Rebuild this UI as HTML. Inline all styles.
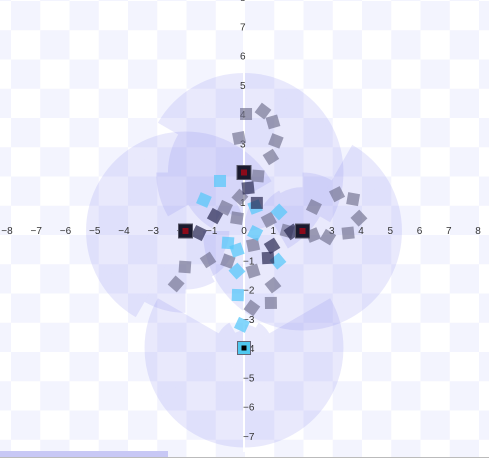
<!DOCTYPE html>
<html><head><meta charset="utf-8"><style>
html,body{margin:0;padding:0;background:#fff}
svg{display:block}
text{font-family:"Liberation Sans",sans-serif;font-size:10px;fill:#333}
</style></head><body>
<svg id="chart" width="489" height="458" viewBox="0 0 489 458">
<defs>
<pattern id="chk" x="11" y="1" width="58.5" height="58.5" patternUnits="userSpaceOnUse">
<rect width="58.5" height="58.5" fill="#ffffff"/>
<rect x="0" y="0" width="29.25" height="29.25" fill="#f3f4fe"/>
<rect x="29.25" y="29.25" width="29.25" height="29.25" fill="#f3f4fe"/>
</pattern>
</defs>
<rect width="489" height="458" fill="url(#chk)"/>
<g id="blobs"></g>
<line x1="244" y1="0" x2="244" y2="452" stroke="#fff" stroke-width="2"/>
<g id="ticks"></g>
<g id="marks"></g>
<rect x="0" y="451" width="168" height="6" fill="#c8c8f5"/>
<line x1="0" y1="457.5" x2="489" y2="457.5" stroke="#bbb"/>
</svg>
<script>
const xTicks=[-8,-7,-6,-5,-4,-3,-2,-1,0,1,2,3,4,5,6,7,8];
const yTicks=[8,7,6,5,4,3,2,1,-1,-2,-3,-4,-5,-6,-7];
const blobCx=[0,-2,2,0];
const blobCy=[2,0,0,-4];
const blobRadii=[
 [3.4,3.4,3.4,3.4,3.4,2.6,3.0,2.2,1.5,2.0,3.0,3.4],
 [2.0,3.4,3.4,3.4,3.4,3.4,3.4,3.4,2.8,2.0,1.8,1.5],
 [3.4,3.4,2.0,1.5,1.6,2.0,3.4,3.4,3.4,3.4,3.4,3.4],
 [3.4,1.0,0.8,0.6,1.0,3.4,3.4,3.4,3.4,3.4,3.4,3.4]
];
const grayX=[0.07,0.65,0.99,1.09,0.92,0.48,-0.14,-0.17,2.39,3.18,3.73,3.93,3.56,2.87,2.36,1.47,0.99,0.92,0.27,0.31,-0.55,-1.23,-2.02,-2.32,0.31,-0.65,0.85,-0.24];
const grayY=[4.0,4.1,3.73,3.08,2.53,1.88,1.16,3.18,0.82,1.26,1.09,0.44,-0.07,-0.21,-0.14,0,-1.85,-2.46,-2.63,-1.37,-1.03,-0.99,-1.23,-1.81,-0.48,0.79,0.38,0.44];
const darkX=[0.44,-0.99,0.96,0.82,-1.54,1.64,0.14];
const darkY=[0.96,0.51,-0.51,-0.92,-0.07,-0.03,1.47];
const cyanX=[-0.82,-1.37,1.2,0.38,-0.21,-0.07,-0.24,-0.24,-0.55,0.38,1.16];
const cyanY=[1.71,1.06,0.65,0.82,-2.19,-3.21,-1.37,-0.65,-0.41,-0.07,-1.03];
const specialX=[-2,2,0];
const specialY=[0,0,2];
const cyanSpecialX=[0];
const cyanSpecialY=[-4];

const U=29.25, OX=244, OY=231;
const sx=v=>OX+v*U, sy=v=>OY-v*U;
const NS='http://www.w3.org/2000/svg';
function mk(tag,parent){const e=document.createElementNS(NS,tag);document.getElementById(parent).appendChild(e);return e;}

xTicks.forEach(t=>{
 const e=mk('text','ticks');
 
 
 e.setAttribute('x',sx(t)-(t<0?3:0));e.setAttribute('y',OY+3);e.setAttribute('text-anchor','middle');
 e.textContent=t<0?'\u2212'+(-t):String(t);
});
yTicks.forEach(t=>{
 const e=mk('text','ticks');
 
 
 e.setAttribute('x',OX+(t<0?-1:-4));e.setAttribute('y',sy(t)+4);
 e.textContent=t<0?'\u2212'+(-t):String(t);
});

blobCx.forEach((cx,i)=>{
 const rs=blobRadii[i], n=rs.length;
 rs.forEach((r,k)=>{
  const a0=k*2*Math.PI/n, a1=(k+1)*2*Math.PI/n;
  const x0=sx(cx), y0=sy(blobCy[i]), R=r*U;
  const p=mk('path','blobs');
  
  
  p.setAttribute('d',`M${x0},${y0}L${x0+R*Math.cos(a0)},${y0-R*Math.sin(a0)}A${R},${R} 0 0 0 ${x0+R*Math.cos(a1)},${y0-R*Math.sin(a1)}Z`);
  p.setAttribute('fill','rgba(125,125,240,0.17)');
 });
});

function sq(x,y,size,fill,rot,name){
 const r=mk('rect','marks');
 
 
 r.setAttribute('x',sx(x)-size/2);r.setAttribute('y',sy(y)-size/2);
 r.setAttribute('width',size);r.setAttribute('height',size);
 r.setAttribute('fill',fill);
 r.setAttribute('transform',`rotate(${rot} ${sx(x)} ${sy(y)})`);
 return r;
}
grayX.forEach((x,i)=>sq(x,grayY[i],12,'rgba(110,110,140,0.65)',(i*37)%90,'gray-point'));
cyanX.forEach((x,i)=>sq(x,cyanY[i],12,'rgba(90,200,250,0.75)',(i*23)%90,'cyan-point'));
darkX.forEach((x,i)=>sq(x,darkY[i],12,'rgba(40,40,80,0.7)',(i*29)%90,'dark-point'));
specialX.forEach((x,i)=>{
 const a=sq(x,specialY[i],14,'#1a1a2e',0,'anchor-marker');
 a.setAttribute('stroke','#556');
 const b=sq(x,specialY[i],6,'#8b0a1a',0,'anchor-marker-center');
});
cyanSpecialX.forEach((x,i)=>{
 const a=sq(x,cyanSpecialY[i],13,'#4fc8ef',0,'cyan-anchor-marker');
 a.setAttribute('stroke','#667');
 sq(x,cyanSpecialY[i],5,'#000',0,'cyan-anchor-center');
});
</script>
</body></html>
